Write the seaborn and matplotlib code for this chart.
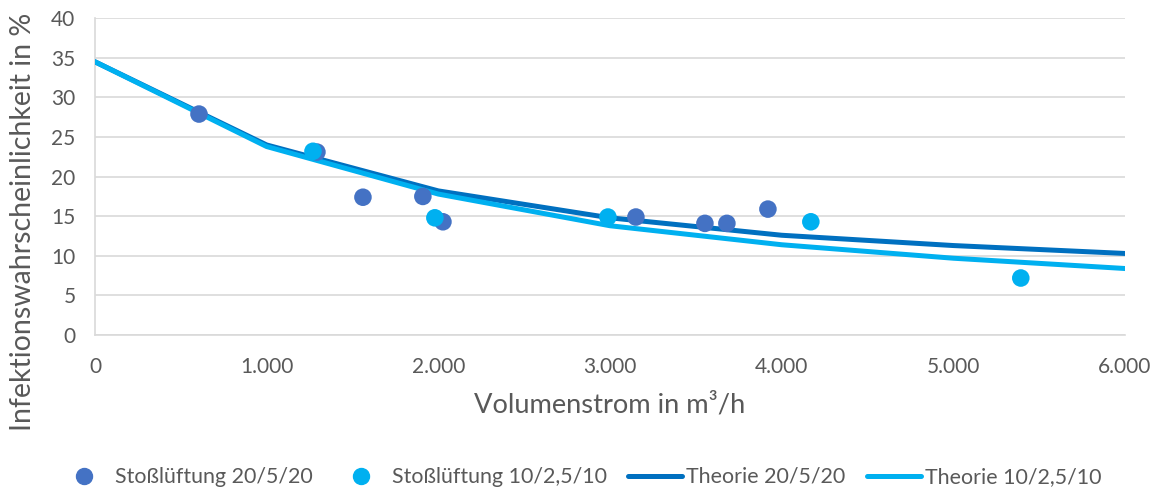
import pandas as pd
import matplotlib.pyplot as plt
import seaborn as sns
from matplotlib.ticker import FuncFormatter, MultipleLocator
from matplotlib.lines import Line2D

# Messpunkte Stoßlüftung (Volumenstrom in m³/h, Infektionswahrscheinlichkeit in %)
stoss_20_x = [606, 1293, 1561, 1910, 2027, 3151, 3553, 3681, 3920]
stoss_20_y = [27.9, 23.1, 17.4, 17.5, 14.3, 14.9, 14.1, 14.1, 15.9]
stoss_10_x = [1270, 1980, 2988, 4170, 5393]
stoss_10_y = [23.2, 14.8, 14.9, 14.3, 7.2]

# Theoriekurven
theory_x = [0, 1000, 2000, 3000, 4000, 5000, 6000]
theory_20 = [34.5, 24.0, 18.2, 14.8, 12.6, 11.3, 10.3]
theory_10 = [34.5, 23.8, 17.8, 13.8, 11.4, 9.7, 8.4]

labels = ["Stoßlüftung 20/5/20", "Stoßlüftung 10/2,5/10",
          "Theorie 20/5/20", "Theorie 10/2,5/10"]
colors = ["#4472C4", "#00B0F0", "#0070C0", "#00B0F0"]

sns.set_style("white")
plt.rcParams['font.family'] = ['Lato', 'DejaVu Sans']
text_color = "#595959"
grid_color = "#D9D9D9"

df_theory = pd.DataFrame({
    "x": theory_x * 2,
    "y": theory_20 + theory_10,
    "serie": [labels[2]] * len(theory_x) + [labels[3]] * len(theory_x),
})
df_points = pd.DataFrame({
    "x": stoss_20_x + stoss_10_x,
    "y": stoss_20_y + stoss_10_y,
    "serie": [labels[0]] * len(stoss_20_x) + [labels[1]] * len(stoss_10_x),
})

fig = plt.figure(figsize=(11.58, 4.92), dpi=100)
ax = fig.add_axes([0.082, 0.319, 0.8895, 0.644])

sns.lineplot(data=df_theory, x="x", y="y", hue="serie",
             palette={labels[2]: colors[2], labels[3]: colors[3]},
             linewidth=3.6, legend=False, ax=ax, zorder=3)
sns.scatterplot(data=df_points, x="x", y="y", hue="serie",
                palette={labels[0]: colors[0], labels[1]: colors[1]},
                s=160, edgecolor="none", legend=False, ax=ax, zorder=4)

ax.set_xlim(0, 6000)
ax.set_ylim(0, 40)
ax.xaxis.set_major_locator(MultipleLocator(1000))
ax.yaxis.set_major_locator(MultipleLocator(5))
ax.xaxis.set_major_formatter(FuncFormatter(lambda v, p: f"{v:,.0f}".replace(",", ".")))
ax.grid(axis="y", color=grid_color, linewidth=1.2, zorder=0)
ax.set_axisbelow(True)

for side in ["top", "right"]:
    ax.spines[side].set_visible(False)
for side in ["left", "bottom"]:
    ax.spines[side].set_color(grid_color)
    ax.spines[side].set_linewidth(1.2)

ax.tick_params(axis="both", labelsize=15, colors=text_color)
ax.tick_params(axis="x", length=4, color=grid_color, pad=12)
ax.tick_params(axis="y", length=0, pad=14)

ax.set_xlabel("Volumenstrom in m³/h", fontsize=19.6, color=text_color)
ax.xaxis.label.set_va("center")
ax.xaxis.set_label_coords(0.5, -0.221)
ax.set_ylabel("Infektionswahrscheinlichkeit in %", fontsize=20.5, color=text_color)
ax.yaxis.label.set_va("center")
ax.yaxis.set_label_coords(-0.070, 0.356)

handles = [
    Line2D([], [], marker="o", linestyle="none", markersize=11.5, color=colors[0]),
    Line2D([], [], marker="o", linestyle="none", markersize=11.5, color=colors[1]),
    Line2D([], [], color=colors[2], linewidth=3.6),
    Line2D([], [], color=colors[3], linewidth=3.6),
]
leg = fig.legend(handles, labels, loc="center", bbox_to_anchor=(0.5, 0.0305),
                 ncol=4, frameon=False, fontsize=15.4, handlelength=2.52,
                 columnspacing=1.0, handletextpad=0.19, borderpad=0)
for t in leg.get_texts():
    t.set_color(text_color)

fig.savefig("out.png", dpi=100)
